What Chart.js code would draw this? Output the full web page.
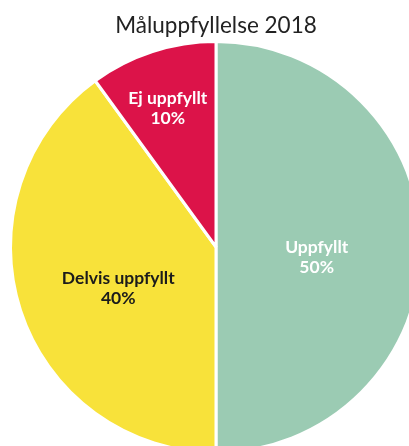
<!DOCTYPE html>
<html>
<head>
<meta charset="utf-8">
<script src="https://cdn.jsdelivr.net/npm/chart.js@4"></script>
<style>
  html, body { margin: 0; padding: 0; background: #fff; overflow: hidden; }
  #wrap { position: absolute; left: -2px; top: 0; width: 436px; height: 454px; }
</style>
</head>
<body>
<div id="wrap"><canvas id="pieChart"></canvas></div>
<script>
const titleText = 'Måluppfyllelse 2018';
const categories = ['Uppfyllt', 'Delvis uppfyllt', 'Ej uppfyllt'];
const values = [50, 40, 10];
const sliceColors = ['#9BCBB3', '#F8E23A', '#DC1349'];
const labelColors = ['#ffffff', '#1b1b1b', '#ffffff'];

// draws "name" + "value%" inside each slice
const sliceLabels = {
  id: 'sliceLabels',
  afterDatasetsDraw(chart, args, opts) {
    const ctx = chart.ctx;
    const meta = chart.getDatasetMeta(0);
    ctx.save();
    ctx.font = 'bold 17.5px Lato, sans-serif';
    ctx.textAlign = 'center';
    ctx.textBaseline = 'middle';
    meta.data.forEach((arc, i) => {
      const p = arc.getProps(['x', 'y', 'startAngle', 'endAngle', 'outerRadius'], true);
      const mid = (p.startAngle + p.endAngle) / 2;
      const r = p.outerRadius * opts.radius[i];
      const px = p.x + Math.cos(mid) * r;
      const py = p.y + Math.sin(mid) * r;
      ctx.fillStyle = labelColors[i];
      ctx.fillText(categories[i], px, py);
      ctx.fillText(values[i] + '%', px, py + 20);
    });
    ctx.restore();
  }
};

document.addEventListener('DOMContentLoaded', () => {
  const ctx = document.getElementById('pieChart').getContext('2d');
  new Chart(ctx, {
    type: 'pie',
    data: {
      labels: categories,
      datasets: [{
        data: values,
        backgroundColor: sliceColors,
        borderColor: '#ffffff',
        borderWidth: 3
      }]
    },
    options: {
      responsive: true,
      maintainAspectRatio: false,
      animation: false,
      layout: { padding: 0 },
      plugins: {
        legend: { display: false },
        tooltip: { enabled: false },
        title: {
          display: true,
          text: titleText,
          color: '#222222',
          font: { family: 'Lato, sans-serif', size: 22.5, weight: 'normal', lineHeight: 1.2 },
          padding: { top: 12, bottom: 1 }
        },
        sliceLabels: { radius: [0.49, 0.5, 0.76] }
      }
    },
    plugins: [sliceLabels]
  });
});
</script>
</body>
</html>
